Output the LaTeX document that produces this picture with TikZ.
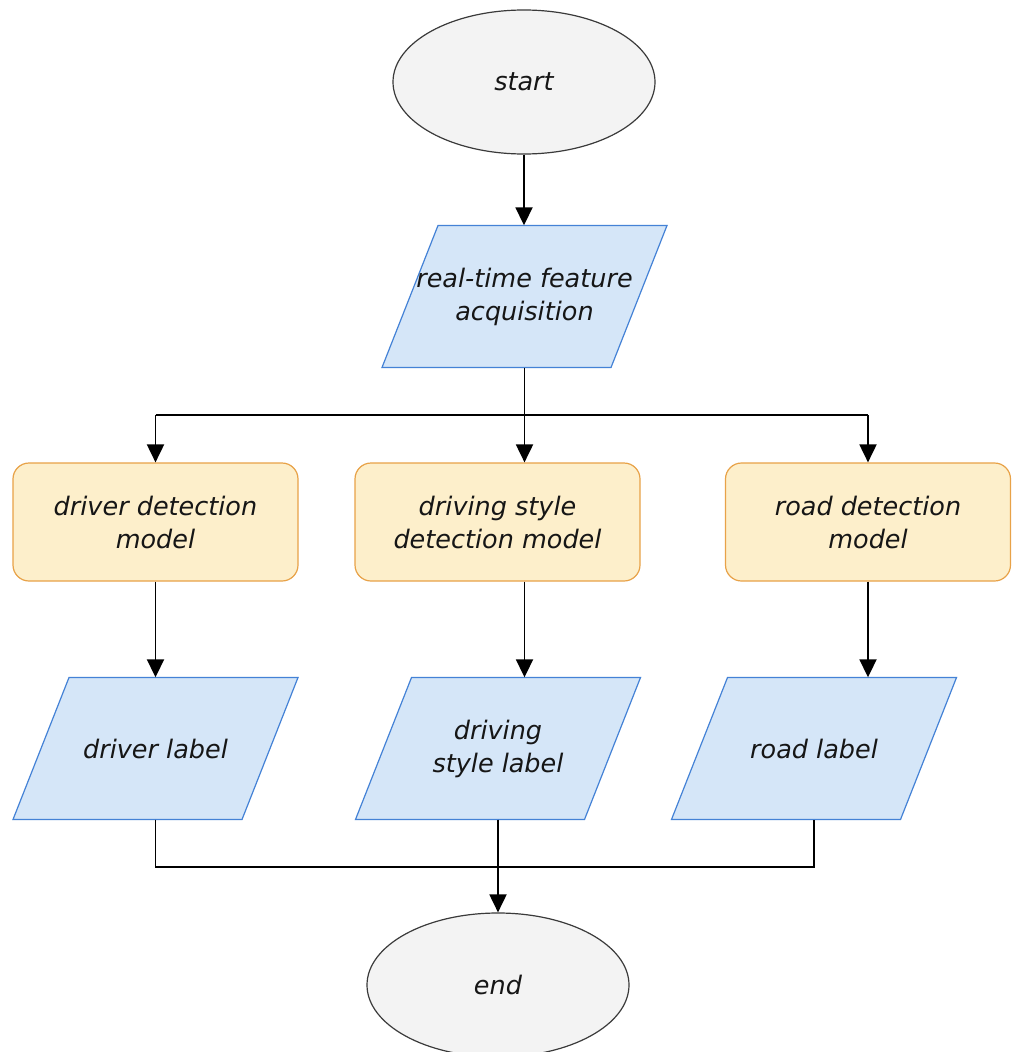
\documentclass[tikz,border=0pt]{standalone}
\usepackage{fontspec}
\setmainfont{DejaVu Sans}
\usetikzlibrary{shapes.geometric,arrows.meta}
\definecolor{ellfill}{HTML}{F3F3F3}
\definecolor{ellstroke}{HTML}{3A3A3A}
\definecolor{bluefill}{HTML}{D5E6F8}
\definecolor{bluestroke}{HTML}{4482D6}
\definecolor{orfill}{HTML}{FDEFCB}
\definecolor{orstroke}{HTML}{E8A248}
\definecolor{txt}{HTML}{161616}
\begin{document}
\begin{tikzpicture}[x=1pt,y=-1pt,
  every node/.style={font=\fontsize{25.5}{33}\selectfont\itshape, text=txt, align=center},
  term/.style={ellipse, draw=ellstroke, fill=ellfill, line width=1.2pt,
    minimum width=262pt, minimum height=144pt, inner sep=0pt},
  iobox/.style={rectangle, minimum width=287pt, minimum height=144pt, inner sep=0pt,
    path picture={
      \filldraw[draw=bluestroke, fill=bluefill, line width=1.2pt]
        ([xshift=57pt,yshift=-1pt]path picture bounding box.north west)
        -- ([xshift=-1pt,yshift=-1pt]path picture bounding box.north east)
        -- ([xshift=-57pt,yshift=1pt]path picture bounding box.south east)
        -- ([xshift=1pt,yshift=1pt]path picture bounding box.south west) -- cycle;}},
  model/.style={rectangle, rounded corners=16pt, draw=orstroke, fill=orfill,
    line width=1.2pt, minimum width=285pt, minimum height=118pt, inner sep=0pt},
  conn/.style={draw=black, line width=1.9pt},
  arr/.style={conn, -{Triangle[width=17pt,length=18pt]}}
]
\fill[white] (0,0) rectangle (1012,1052);
\useasboundingbox (0,0) rectangle (1012,1052);

\node[term] (start) at (524,82) {start};
\node[iobox] (acq) at (524.5,296.5) {real-time feature\\acquisition};

\node[model] (m1) at (155.5,522) {driver detection\\model};
\node[model] (m2) at (497.5,522) {driving style\\detection model};
\node[model] (m3) at (868,522) {road detection\\model};

\node[iobox] (l1) at (155.5,748.5) {driver label};
\node[iobox] (l2) at (498,748.5) {driving\\style label};
\node[iobox] (l3) at (814,748.5) {road label};

\node[term] (end) at (498,985) {end};

\coordinate (bus) at (524,415);
\coordinate (mrg) at (498,867);

% start -> acquisition
\draw[arr] (start.south) -- ([yshift=-1pt]start.south |- acq.north);
% fan out
\draw[arr] ([yshift=1pt]acq.south) -- (acq.south |- m2.north);
\draw[conn] (m1.north |- bus) -- (m3.north |- bus);
\draw[arr] (m1.north |- bus) -- (m1.north);
\draw[arr] (m3.north |- bus) -- (m3.north);
% models -> labels
\draw[arr] (m1.south) -- ([yshift=-1pt]m1.south |- l1.north);
\draw[arr] (m2.south -| acq.south) -- ([yshift=-1pt]l2.north -| acq.south);
\draw[arr] (m3.south) -- ([yshift=-1pt]m3.south |- l3.north);
% merge
\draw[conn] ([yshift=1pt]l1.south) -- (l1.south |- mrg) -- (l3.south |- mrg) -- ([yshift=1pt]l3.south);
\draw[arr] ([yshift=1pt]l2.south) -- (end.north);
\end{tikzpicture}
\end{document}
